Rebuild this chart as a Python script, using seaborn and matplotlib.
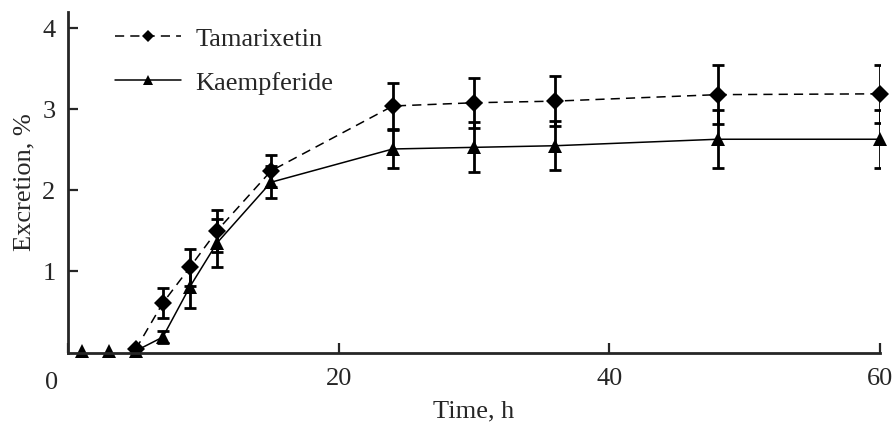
import matplotlib
matplotlib.use('Agg')
import matplotlib.pyplot as plt
import seaborn as sns
import pandas as pd

# time points, h
kaem_time = [1, 3, 5, 7, 9, 11, 15, 24, 30, 36, 48, 60]
kaem_mean = [0.02, 0.02, 0.02, 0.19, 0.81, 1.35, 2.10, 2.51, 2.53, 2.55, 2.63, 2.63]
kaem_err = [0, 0, 0, 0.07, 0.26, 0.30, 0.20, 0.24, 0.31, 0.30, 0.36, 0.36]

tama_time = [5, 7, 9, 11, 15, 24, 30, 36, 48, 60]
tama_mean = [0.04, 0.61, 1.05, 1.50, 2.24, 3.04, 3.08, 3.10, 3.18, 3.19]
tama_err = [0, 0.18, 0.23, 0.26, 0.20, 0.28, 0.31, 0.31, 0.36, 0.36]

x_ticks = [0, 20, 40, 60]
y_ticks = [1, 2, 3, 4]

sns.set_style('ticks')
plt.rcParams['font.family'] = ['Liberation Serif', 'DejaVu Serif']
plt.rcParams['font.size'] = 19

kaem = pd.DataFrame({'time': kaem_time, 'mean': kaem_mean, 'err': kaem_err})
tama = pd.DataFrame({'time': tama_time, 'mean': tama_mean, 'err': tama_err})

fig, ax = plt.subplots(figsize=(8.96, 4.26), dpi=100)
fig.subplots_adjust(left=0.076, right=0.982, bottom=0.1725, top=0.972)

# curves (the Kaempferide line starts at 5 h, earlier points sit on the axis)
sns.lineplot(data=tama, x='time', y='mean', ax=ax, color='black', linewidth=1.1,
             linestyle=(0, (6, 4)), marker='D', markersize=9, markeredgewidth=0,
             label='Tamarixetin', clip_on=False)
sns.lineplot(data=kaem[kaem['time'] >= 5], x='time', y='mean', ax=ax, color='black',
             linewidth=1.1, marker='^', markersize=10, markeredgewidth=0,
             label='Kaempferide', clip_on=False)
early = kaem[kaem['time'] < 5]
ax.plot(early['time'], early['mean'], linestyle='none', marker='^', markersize=10,
        color='black', markeredgewidth=0, clip_on=False)

# error bars
for df in (tama, kaem):
    sub = df[df['err'] > 0]
    ax.errorbar(sub['time'], sub['mean'], yerr=sub['err'], fmt='none', ecolor='black',
                elinewidth=2, capsize=4, capthick=2)

ax.set_xlim(0, 60)
ax.set_ylim(0, 4.2)
ax.set_xticks(x_ticks)
ax.set_xticklabels(['', '20', '40', '60'])
ax.set_yticks(y_ticks)
ax.set_yticklabels([str(v) for v in y_ticks])
ax.annotate('0', xy=(0, 0), xycoords=('data', 'axes fraction'), xytext=(-12, -14),
            textcoords='offset points', ha='center', va='top')

ax.tick_params(direction='in', length=7, width=1.6, labelsize=19)
ax.tick_params(axis='y', pad=9)
ax.tick_params(axis='x', pad=11)
for side in ('left', 'bottom'):
    ax.spines[side].set_linewidth(2)
sns.despine(ax=ax)

ax.set_xlabel('Time, h', fontsize=19, labelpad=8)
ax.set_ylabel('Excretion, %', fontsize=19, labelpad=5)

ax.legend(loc='upper left', bbox_to_anchor=(0.058, 0.955), frameon=False, fontsize=19,
          handlelength=2.5, handletextpad=0.55, labelspacing=0.77, borderpad=0,
          borderaxespad=0, markerscale=0.72)

plt.savefig('out.png', dpi=100)
